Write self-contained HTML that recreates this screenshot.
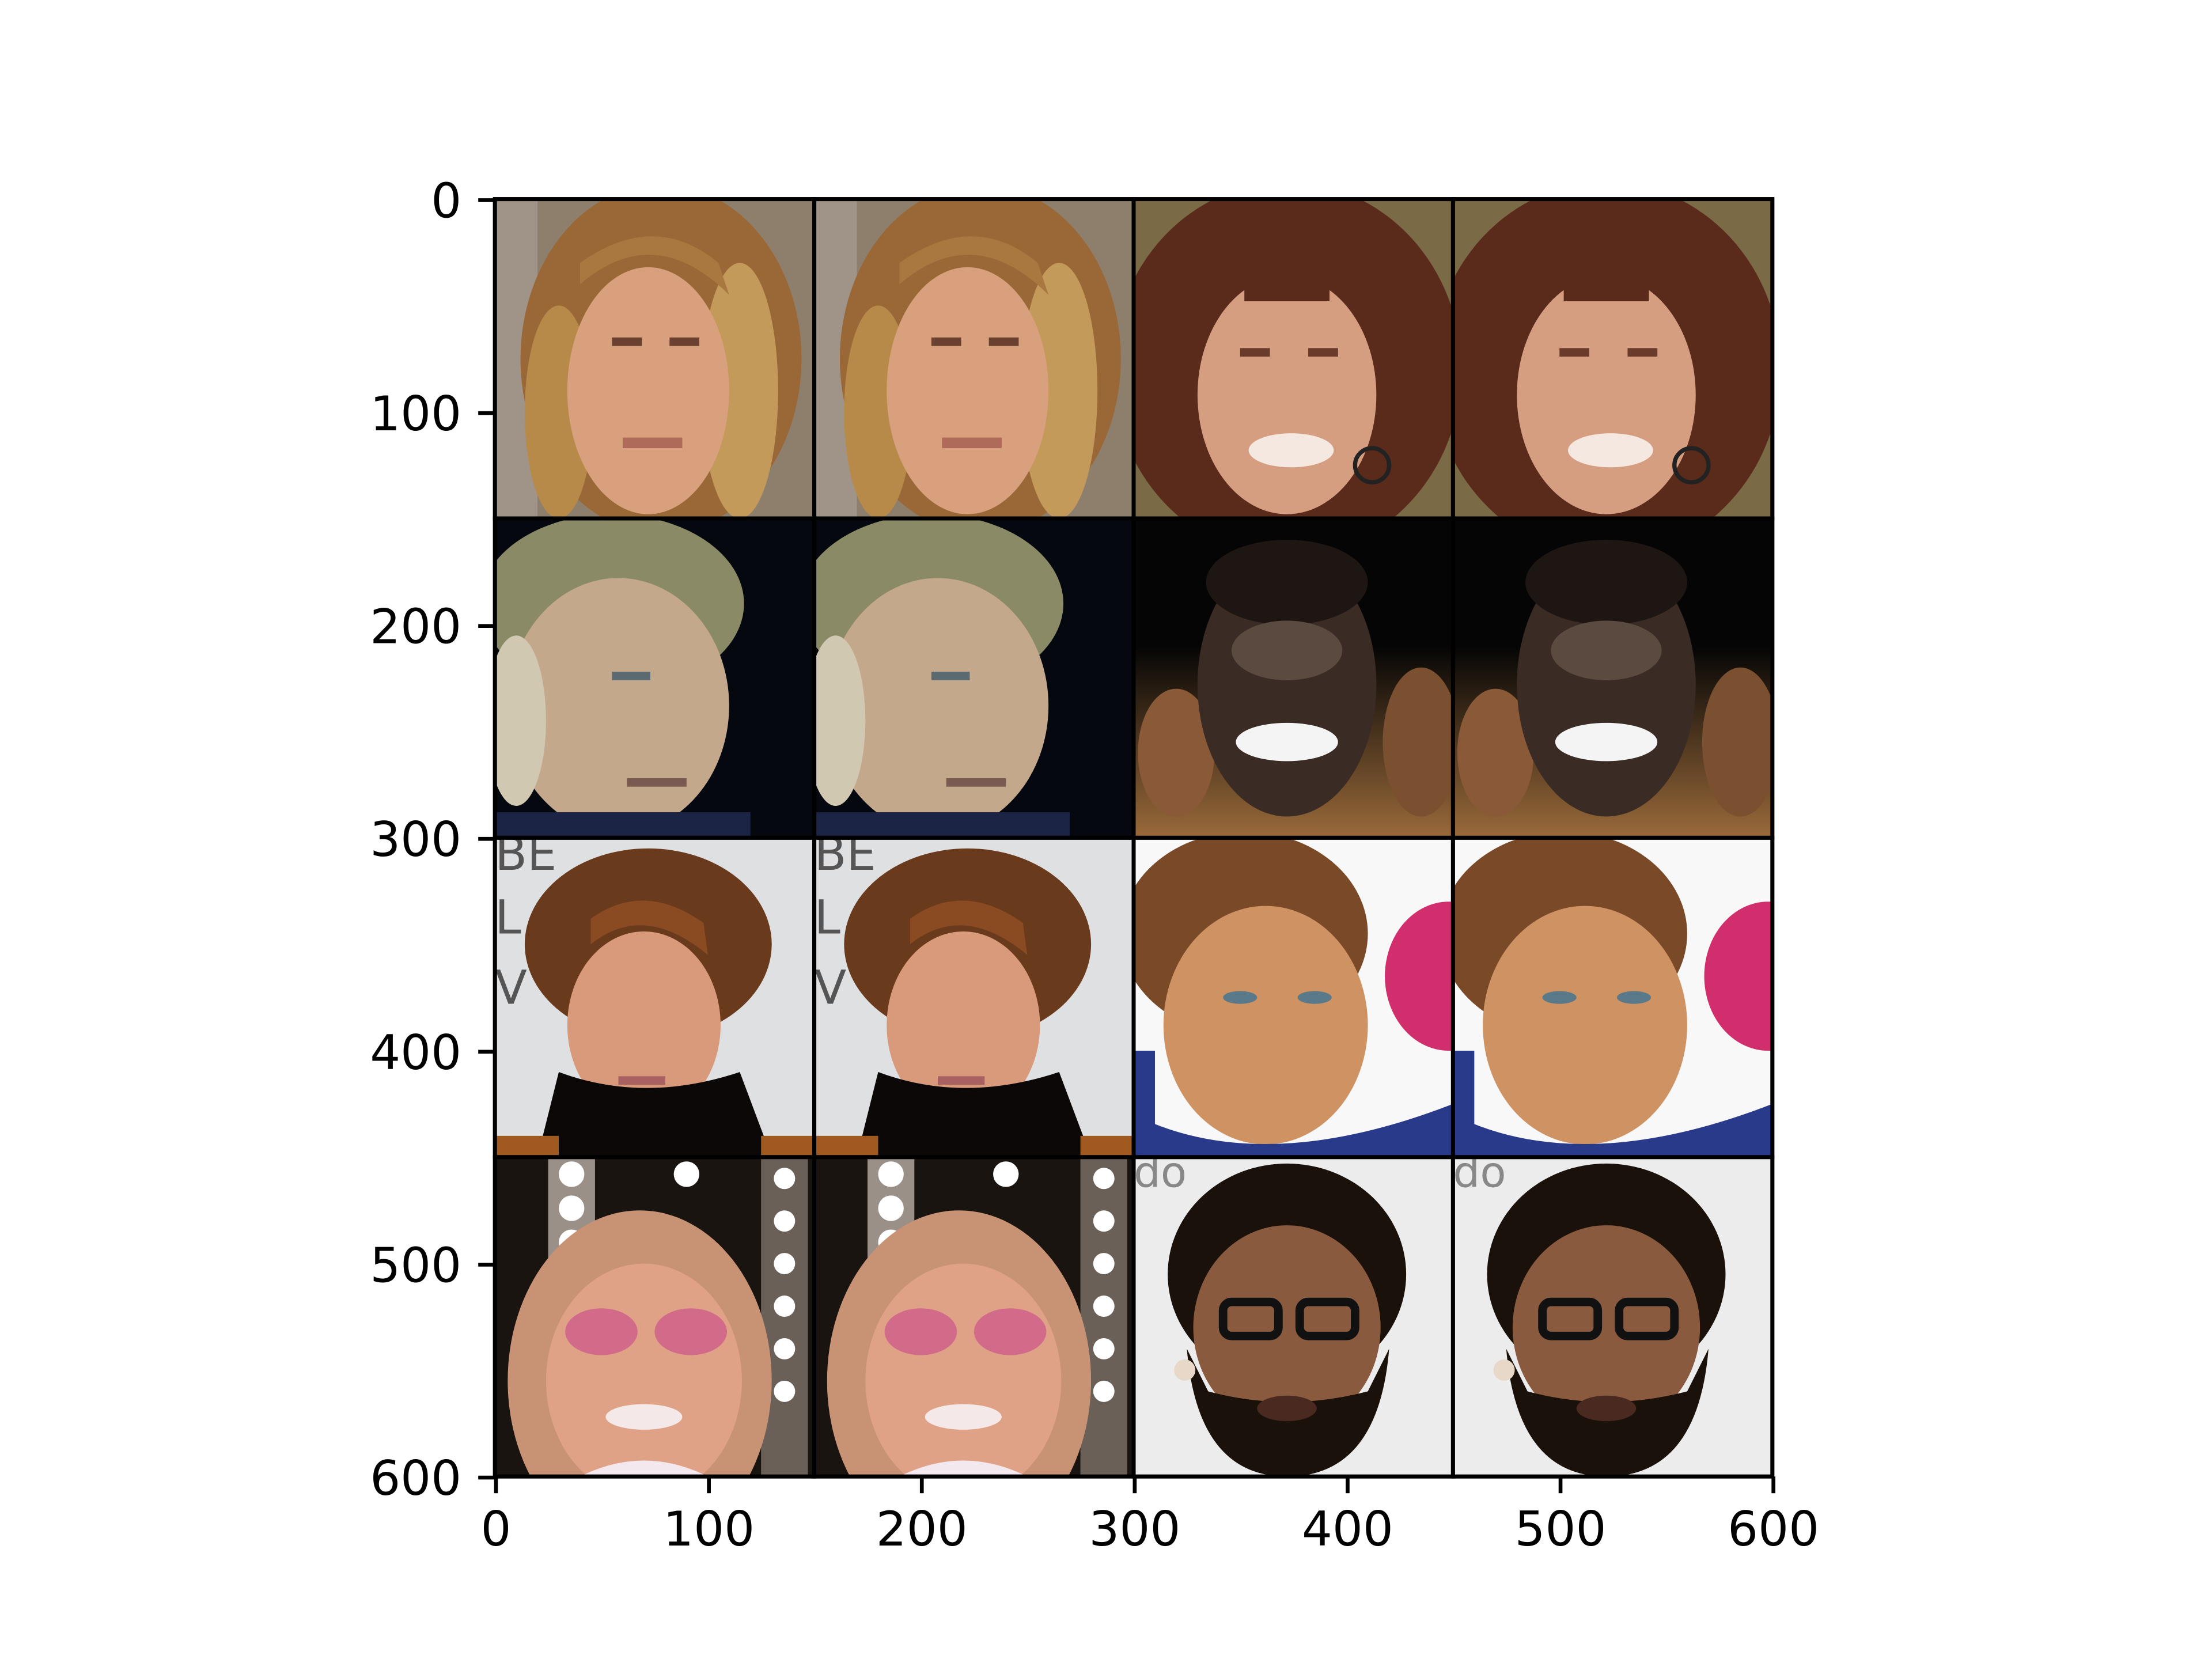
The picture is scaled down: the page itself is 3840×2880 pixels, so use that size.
<!DOCTYPE html>
<html><head><meta charset="utf-8"><style>
html,body{margin:0;padding:0;background:#fff;width:3840px;height:2880px;overflow:hidden}
svg text{font-family:"DejaVu Sans","Liberation Sans",sans-serif;font-size:83.3px;fill:#000}
</style></head><body>
<svg id="fig" width="3840" height="2880" viewBox="0 0 3840 2880" xmlns="http://www.w3.org/2000/svg">
<defs>
<clipPath id="tc" clipPathUnits="userSpaceOnUse"><rect x="0" y="0" width="150" height="150"/></clipPath>
<linearGradient id="g1bot" x1="0" y1="0" x2="0" y2="1"><stop offset="0.4" stop-color="#050505"/><stop offset="1" stop-color="#9a6a3a"/></linearGradient>
<g id="tA0" clip-path="url(#tc)">
<rect width="150" height="150" fill="#8e7f6c"/>
<rect x="0" y="0" width="20" height="150" fill="#a09488"/>
<ellipse cx="78" cy="75" rx="66" ry="82" fill="#9a6836"/>
<ellipse cx="115" cy="90" rx="18" ry="60" fill="#c49a5a"/>
<ellipse cx="30" cy="100" rx="16" ry="50" fill="#b88a4a"/>
<ellipse cx="72" cy="90" rx="38" ry="58" fill="#d8a07c"/>
<path d="M40 40 Q75 10 110 45 L105 30 Q75 5 40 30Z" fill="#a87840"/>
<rect x="55" y="65" width="14" height="4" fill="#6a4030"/><rect x="82" y="65" width="14" height="4" fill="#6a4030"/>
<rect x="60" y="112" width="28" height="5" fill="#b06a5a"/>
</g>
<g id="tB0" clip-path="url(#tc)">
<rect width="150" height="150" fill="#7a6a46"/>
<ellipse cx="72" cy="80" rx="82" ry="88" fill="#5a2a1a"/>
<ellipse cx="72" cy="92" rx="42" ry="56" fill="#d69e80"/>
<rect x="52" y="30" width="40" height="18" fill="#5a2a1a"/>
<rect x="50" y="70" width="14" height="4" fill="#6a3a2a"/><rect x="82" y="70" width="14" height="4" fill="#6a3a2a"/>
<ellipse cx="74" cy="118" rx="20" ry="8" fill="#f4e8e0"/>
<circle cx="112" cy="125" r="8" fill="none" stroke="#222" stroke-width="2"/>
</g>
<g id="tA1" clip-path="url(#tc)">
<rect width="150" height="150" fill="#05080f"/>
<ellipse cx="55" cy="40" rx="62" ry="42" fill="#8a8a66"/>
<ellipse cx="58" cy="88" rx="52" ry="60" fill="#c4a88c"/>
<ellipse cx="10" cy="95" rx="14" ry="40" fill="#d0c8b0"/>
<rect x="55" y="72" width="18" height="4" fill="#5a6a70"/>
<rect x="0" y="138" width="120" height="12" fill="#1c2446"/>
<rect x="62" y="122" width="28" height="4" fill="#7a5a50"/>
</g>
<g id="tB1" clip-path="url(#tc)">
<rect width="150" height="150" fill="url(#g1bot)"/>
<ellipse cx="20" cy="110" rx="18" ry="30" fill="#8a5a38"/>
<ellipse cx="135" cy="105" rx="18" ry="35" fill="#7a5030"/>
<ellipse cx="72" cy="78" rx="42" ry="62" fill="#3a2c24"/>
<ellipse cx="72" cy="30" rx="38" ry="20" fill="#1e1612"/>
<ellipse cx="72" cy="62" rx="26" ry="14" fill="#5a4a40"/>
<ellipse cx="72" cy="105" rx="24" ry="9" fill="#f4f4f4"/>
</g>
<g id="tA2" clip-path="url(#tc)">
<rect width="150" height="150" fill="#dfe0e2"/>
<text x="0" y="15" style="font-size:22px;fill:#555">BE</text>
<text x="0" y="45" style="font-size:22px;fill:#555">L</text>
<text x="0" y="78" style="font-size:22px;fill:#555">V</text>
<ellipse cx="72" cy="50" rx="58" ry="45" fill="#6a3a1c"/>
<ellipse cx="70" cy="88" rx="36" ry="44" fill="#d89a7a"/>
<path d="M45 50 Q70 30 100 55 L98 40 Q70 20 45 38Z" fill="#8a4a22"/>
<path d="M20 150 L30 110 Q70 125 115 110 L130 150Z" fill="#0c0808"/>
<rect x="0" y="140" width="30" height="10" fill="#a05a20"/><rect x="125" y="140" width="25" height="10" fill="#a05a20"/>
<rect x="58" y="112" width="22" height="4" fill="#a86060"/>
</g>
<g id="tB2" clip-path="url(#tc)">
<rect width="150" height="150" fill="#f8f8f8"/>
<ellipse cx="148" cy="65" rx="30" ry="35" fill="#d02e6c"/>
<ellipse cx="52" cy="45" rx="58" ry="48" fill="#7a4a28"/>
<ellipse cx="62" cy="88" rx="48" ry="56" fill="#cf9262"/>
<path d="M0 130 Q60 160 150 125 L150 150 L0 150Z" fill="#2a3a8a"/>
<rect x="0" y="100" width="10" height="40" fill="#2a3a8a"/>
<ellipse cx="50" cy="75" rx="8" ry="3" fill="#5a7a8a"/><ellipse cx="85" cy="75" rx="8" ry="3" fill="#5a7a8a"/>
</g>
<g id="tA3" clip-path="url(#tc)">
<rect width="150" height="150" fill="#1a1410"/>
<rect x="25" y="0" width="22" height="70" fill="#9a9088"/>
<rect x="125" y="0" width="22" height="150" fill="#6a6058"/>
<circle cx="36" cy="8" r="6" fill="#fff"/><circle cx="36" cy="24" r="6" fill="#fff"/><circle cx="36" cy="40" r="6" fill="#fff"/>
<circle cx="136" cy="10" r="5" fill="#fff"/><circle cx="136" cy="30" r="5" fill="#fff"/><circle cx="136" cy="50" r="5" fill="#fff"/><circle cx="136" cy="70" r="5" fill="#fff"/><circle cx="136" cy="90" r="5" fill="#fff"/><circle cx="136" cy="110" r="5" fill="#fff"/>
<circle cx="90" cy="8" r="6" fill="#fff"/>
<ellipse cx="68" cy="105" rx="62" ry="80" fill="#c89274"/>
<ellipse cx="70" cy="105" rx="46" ry="55" fill="#e0a286"/>
<ellipse cx="50" cy="82" rx="17" ry="11" fill="#d26a8a"/><ellipse cx="92" cy="82" rx="17" ry="11" fill="#d26a8a"/>
<ellipse cx="70" cy="122" rx="18" ry="6" fill="#f4e8e8"/>
<path d="M40 150 Q70 135 100 150Z" fill="#f2e8ee"/>
</g>
<g id="tB3" clip-path="url(#tc)">
<rect width="150" height="150" fill="#ececec"/>
<text x="0" y="14" style="font-size:20px;fill:#888">do</text>
<ellipse cx="72" cy="55" rx="56" ry="52" fill="#1a120a"/>
<ellipse cx="72" cy="80" rx="44" ry="48" fill="#8a5a3e"/>
<path d="M25 90 Q30 150 72 150 Q115 150 120 90 L110 110 Q72 120 35 110Z" fill="#1a120a"/>
<rect x="42" y="68" width="26" height="16" rx="4" fill="none" stroke="#111" stroke-width="4"/>
<rect x="78" y="68" width="26" height="16" rx="4" fill="none" stroke="#111" stroke-width="4"/>
<ellipse cx="72" cy="118" rx="14" ry="6" fill="#4a2a20"/>
<circle cx="24" cy="100" r="5" fill="#e8d8c8"/>
</g>
</defs>
<g id="axes">
<g id="tiles"></g>
<rect x="859.2" y="345.6" width="2217.6" height="2217.6" fill="none" stroke="#000" stroke-width="6.67"/>
<g id="xticks"></g>
<g id="yticks"></g>
</g>
</svg>
<script>
const tickValues = [0, 100, 200, 300, 400, 500, 600];
const tickLabels = ["0", "100", "200", "300", "400", "500", "600"];
const tileIds = [["tA0","tA0","tB0","tB0"],["tA1","tA1","tB1","tB1"],["tA2","tA2","tB2","tB2"],["tA3","tA3","tB3","tB3"]];
const tileNames = [["face-1-original","face-1-reconstruction","face-2-original","face-2-reconstruction"],["face-3-original","face-3-reconstruction","face-4-original","face-4-reconstruction"],["face-5-original","face-5-reconstruction","face-6-original","face-6-reconstruction"],["face-7-original","face-7-reconstruction","face-8-original","face-8-reconstruction"]];
const NS = "http://www.w3.org/2000/svg";
const L = 859.2, T = 345.6, S = 2217.6 / 600;
const xs = v => L + (v + 0.5) * S;
const ys = v => T + (v + 0.5) * S;
const tiles = document.getElementById('tiles');
tileIds.forEach((row, r) => row.forEach((id, c) => {
  const u = document.createElementNS(NS, 'use');
  u.setAttribute('href', '#' + id);
  u.setAttribute('transform', `translate(${L + c * 150 * S},${T + r * 150 * S}) scale(${S})`);
  
  
  tiles.appendChild(u);
  const b = document.createElementNS(NS, 'rect');
  b.setAttribute('x', L + c * 150 * S); b.setAttribute('y', T + r * 150 * S);
  b.setAttribute('width', 150 * S); b.setAttribute('height', 150 * S);
  b.setAttribute('fill', 'none'); b.setAttribute('stroke', '#000'); b.setAttribute('stroke-width', '7');
  
  
  tiles.appendChild(b);
}));
const xg = document.getElementById('xticks'), yg = document.getElementById('yticks');
tickValues.forEach((v, i) => {
  const x = xs(v), y = ys(v);
  const xt = document.createElementNS(NS, 'line');
  xt.setAttribute('x1', x); xt.setAttribute('x2', x); xt.setAttribute('y1', T + 2217.6); xt.setAttribute('y2', T + 2217.6 + 29);
  xt.setAttribute('stroke', '#000'); xt.setAttribute('stroke-width', '6.67');
  
  
  xg.appendChild(xt);
  const xl = document.createElementNS(NS, 'text');
  xl.setAttribute('x', x); xl.setAttribute('y', T + 2217.6 + 29 + 29 + 62);
  xl.setAttribute('text-anchor', 'middle'); xl.textContent = tickLabels[i];
  
  
  xg.appendChild(xl);
  const yt = document.createElementNS(NS, 'line');
  yt.setAttribute('x1', L - 29); yt.setAttribute('x2', L); yt.setAttribute('y1', y); yt.setAttribute('y2', y);
  yt.setAttribute('stroke', '#000'); yt.setAttribute('stroke-width', '6.67');
  
  
  yg.appendChild(yt);
  const yl = document.createElementNS(NS, 'text');
  yl.setAttribute('x', L - 29 - 29); yl.setAttribute('y', y + 30);
  yl.setAttribute('text-anchor', 'end'); yl.textContent = tickLabels[i];
  
  
  yg.appendChild(yl);
});
</script>
</body></html>
